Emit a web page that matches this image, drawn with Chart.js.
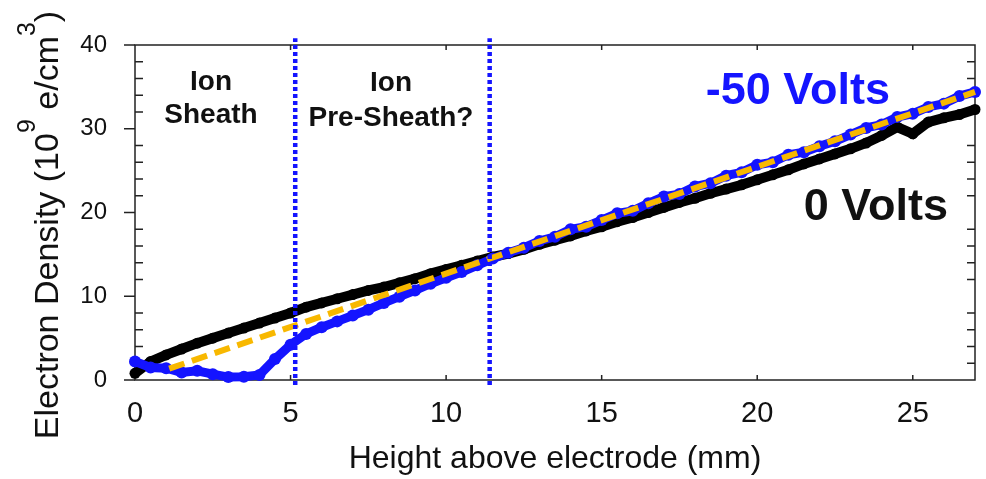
<!DOCTYPE html>
<html>
<head>
<meta charset="utf-8">
<script src="https://cdn.jsdelivr.net/npm/chart.js@4/dist/chart.umd.min.js"></script>
<style>
  html, body { margin: 0; padding: 0; background: #ffffff; }
  #wrap { width: 986px; height: 479px; }
</style>
</head>
<body>
<div id="wrap"><canvas id="chart" width="986" height="479"></canvas></div>
<script>
// Height above the electrode (mm), shared by both probe sweeps
const heightMm = [
  0, 0.5, 1, 1.5, 2, 2.5, 3, 3.5, 4, 4.5, 5, 5.5, 6, 6.5, 7, 7.5, 8, 8.5, 9, 9.5,
  10, 10.5, 11, 11.5, 12, 12.5, 13, 13.5, 14, 14.5, 15, 15.5, 16, 16.5, 17, 17.5,
  18, 18.5, 19, 19.5, 20, 20.5, 21, 21.5, 22, 22.5, 23, 23.5, 24, 24.5, 25, 25.5,
  26, 26.5, 27
];

// Electron density (1e9 e/cm^3) with the electrode grounded
const density0V = [
  0.8, 2.2, 3.0, 3.7, 4.4, 5.0, 5.6, 6.2, 6.8, 7.4, 8.0, 8.7, 9.2, 9.7, 10.2, 10.7,
  11.1, 11.6, 12.1, 12.7, 13.2, 13.7, 14.2, 14.7, 15.1, 15.6, 16.2, 16.7, 17.2, 17.8,
  18.3, 18.9, 19.4, 20.0, 20.6, 21.2, 21.7, 22.3, 22.8, 23.3, 23.9, 24.5, 25.1, 25.8,
  26.4, 27.0, 27.6, 28.3, 29.2, 30.2, 29.4, 30.8, 31.3, 31.7, 32.3
];

// Electron density (1e9 e/cm^3) with the electrode biased to -50 V
const densityMinus50V = [
  2.2, 1.5, 1.4, 0.9, 1.1, 0.7, 0.35, 0.4, 0.6, 2.5, 4.2, 5.5, 6.3, 7.0, 7.7, 8.4,
  9.2, 9.95, 10.7, 11.5, 12.2, 12.9, 13.7, 14.5, 15.2, 15.8, 16.6, 17.1, 18.0, 18.3,
  19.1, 19.9, 20.2, 21.1, 21.9, 22.2, 23.1, 23.5, 24.4, 24.8, 25.7, 26.0, 26.9, 27.2,
  27.9, 28.5, 29.3, 30.1, 30.5, 31.4, 31.8, 32.6, 33.0, 33.9, 34.4
];

// Straight-line fit through the biased profile
const fitHeightMm = [1.1, 27];
const fitDensity = [1.35, 34.4];

// Sheath / pre-sheath boundaries (mm)
const regionBoundsMm = [5.15, 11.4];
const boundDensitySpan = [-0.6, 40.8];

// Axis ranges and labelled ticks
const xRange = [0, 27];
const yRange = [0, 40];
const xTickStep = 5;
const yTickStep = 10;
const yMinorStep = 2;

const FONT = '"Liberation Sans", Arial, Helvetica, sans-serif';
const BLUE = '#1414ff';
const GOLD = '#f8b800';
const INK = '#111111';

const pts = (xs, ys) => xs.map((x, i) => ({ x: x, y: ys[i] }));

const boundSets = regionBoundsMm.map(b => ({
  data: pts([b, b], boundDensitySpan),
  showLine: true,
  borderColor: BLUE,
  borderWidth: 4.5,
  borderDash: [4, 3],
  pointRadius: 0,
  clip: false,
  order: -1
}));

// Box frame with inward/outward ticks, drawn under the data
const framePlugin = {
  id: 'frame',
  beforeDatasetsDraw(chart) {
    const { ctx, chartArea: a, scales: { x, y } } = chart;
    ctx.save();
    ctx.strokeStyle = '#222';
    ctx.lineWidth = 1.5;
    ctx.strokeRect(a.left, a.top, a.right - a.left, a.bottom - a.top);
    ctx.beginPath();
    // left: major ticks outward, minor ticks inward; right: minor ticks inward
    for (let v = yRange[0]; v <= yRange[1]; v += yMinorStep) {
      const py = y.getPixelForValue(v);
      if (v % yTickStep === 0) {
        ctx.moveTo(a.left - 11, py); ctx.lineTo(a.left, py);
      } else {
        ctx.moveTo(a.left, py); ctx.lineTo(a.left + 8, py);
        ctx.moveTo(a.right, py); ctx.lineTo(a.right - 8, py);
      }
    }
    // bottom and top: short inward ticks on the labelled values
    for (let v = xRange[0] + xTickStep; v < xRange[1]; v += xTickStep) {
      const px = x.getPixelForValue(v);
      ctx.moveTo(px, a.bottom); ctx.lineTo(px, a.bottom - 5);
      ctx.moveTo(px, a.top); ctx.lineTo(px, a.top + 5);
    }
    ctx.stroke();
    ctx.restore();
  }
};

// Axis titles and region / series labels
const textPlugin = {
  id: 'texts',
  afterDraw(chart) {
    const { ctx, chartArea: a } = chart;
    ctx.save();
    ctx.fillStyle = INK;
    ctx.textBaseline = 'alphabetic';

    // x axis title
    ctx.font = '32px ' + FONT;
    ctx.textAlign = 'center';
    ctx.fillText('Height above electrode (mm)', (a.left + a.right) / 2, 468);

    // y axis title with superscripts
    const mainFont = '34px ' + FONT;
    const supFont = '25px ' + FONT;
    const parts = [
      ['Electron Density (10', mainFont, 0],
      ['9', supFont, 23],
      [' e/cm', mainFont, 0],
      ['3', supFont, 23],
      [')', mainFont, 0]
    ];
    let total = 0;
    parts.forEach(p => { ctx.font = p[1]; total += ctx.measureText(p[0]).width; });
    ctx.translate(58, 225);
    ctx.rotate(-Math.PI / 2);
    ctx.textAlign = 'left';
    let cx = -total / 2;
    parts.forEach(p => {
      ctx.font = p[1];
      ctx.fillText(p[0], cx, -p[2]);
      cx += ctx.measureText(p[0]).width;
    });
    ctx.setTransform(1, 0, 0, 1, 0, 0);

    // region labels
    ctx.textAlign = 'center';
    ctx.font = 'bold 28px ' + FONT;
    ctx.fillText('Ion', 211, 90);
    ctx.fillText('Sheath', 211, 123);
    ctx.fillText('Ion', 391, 91);
    ctx.fillText('Pre-Sheath?', 391, 126);

    // series labels
    ctx.textAlign = 'right';
    ctx.font = 'bold 45px ' + FONT;
    ctx.fillStyle = BLUE;
    ctx.fillText('-50 Volts', 890, 104);
    ctx.fillStyle = INK;
    ctx.fillText('0 Volts', 948, 220);
    ctx.restore();
  }
};

new Chart(document.getElementById('chart'), {
  type: 'scatter',
  data: {
    datasets: [
      ...boundSets,
      {
        label: '-50 Volts fit',
        data: pts(fitHeightMm, fitDensity),
        showLine: true,
        borderColor: GOLD,
        borderWidth: 6,
        borderDash: [16, 8],
        pointRadius: 0,
        clip: false,
        order: 0
      },
      {
        label: '-50 Volts',
        data: pts(heightMm, densityMinus50V),
        showLine: true,
        borderColor: BLUE,
        backgroundColor: BLUE,
        borderWidth: 9,
        pointRadius: 6,
        pointBorderWidth: 0,
        tension: 0,
        clip: false,
        order: 1
      },
      {
        label: '0 Volts',
        data: pts(heightMm, density0V),
        showLine: true,
        borderColor: '#000000',
        backgroundColor: '#000000',
        borderWidth: 10,
        pointRadius: 5.5,
        pointBorderWidth: 0,
        tension: 0,
        clip: false,
        order: 2
      }
    ]
  },
  options: {
    responsive: false,
    devicePixelRatio: 1,
    animation: false,
    events: [],
    layout: { padding: { left: 0, right: 11, top: 45, bottom: 0 } },
    plugins: { legend: { display: false }, tooltip: { enabled: false } },
    scales: {
      x: {
        type: 'linear',
        min: xRange[0],
        max: xRange[1],
        grid: { display: false, drawTicks: false },
        border: { display: false },
        ticks: {
          stepSize: xTickStep,
          padding: 17,
          color: INK,
          font: { family: FONT, size: 29 },
          maxRotation: 0
        },
        afterBuildTicks(s) { s.ticks = s.ticks.filter(t => t.value % xTickStep === 0); },
        afterFit(s) { s.height = 99; s.paddingRight = 0; s.paddingLeft = 0; }
      },
      y: {
        type: 'linear',
        min: yRange[0],
        max: yRange[1],
        grid: { display: false, drawTicks: false },
        border: { display: false },
        ticks: {
          stepSize: yTickStep,
          padding: 28,
          color: INK,
          font: { family: FONT, size: 24 }
        },
        afterFit(s) { s.width = 135; }
      }
    }
  },
  plugins: [framePlugin, textPlugin]
});
</script>
</body>
</html>
